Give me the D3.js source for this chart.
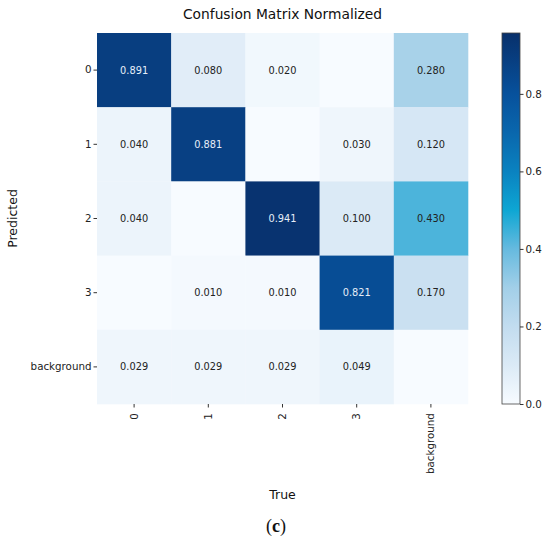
<!DOCTYPE html>
<html><head><meta charset="utf-8">
<script src="https://cdn.jsdelivr.net/npm/d3@7"></script>
<style>body{margin:0;background:#fff}svg{display:block}text{font-family:"DejaVu Sans",sans-serif}</style>
</head><body><svg id="c" width="550" height="545"></svg>
<script>
const predictedLabels = ["0","1","2","3","background"];
const trueLabels = ["0","1","2","3","background"];
const values = [
  [0.891,0.080,0.020,0,0.280],
  [0.040,0.881,0,0.030,0.120],
  [0.040,0,0.941,0.100,0.430],
  [0,0.010,0.010,0.821,0.170],
  [0.029,0.029,0.029,0.049,0]
];
const colorTicks = [0,0.2,0.4,0.6,0.8];
const vmax = 0.957;

const svg = d3.select("#c");
const L=97, T=33, S=371;
const x = d3.scaleBand().domain(trueLabels).range([L,L+S]);
const y = d3.scaleBand().domain(predictedLabels).range([T,T+S]);
const cStops = [0,0.1,0.2,0.3,0.4,0.5,0.6,0.7,0.8,0.957];
const cCols = ["#f7fbff","#dbeaf6","#c2dcef","#a2cfe8","#66badf","#0ea6d3","#0a82c0","#0a67ad","#07519c","#08306b"];
const color = d3.scaleLinear().domain(cStops).range(cCols).clamp(true);

const cells=[];
values.forEach((r,i)=>r.forEach((v,j)=>cells.push({p:predictedLabels[i],t:trueLabels[j],v})));
svg.append("g").selectAll("rect").data(cells).join("rect")
  .attr("x",d=>x(d.t)).attr("y",d=>y(d.p)).attr("width",x.bandwidth()+0.3).attr("height",y.bandwidth()+0.3)
  .attr("fill",d=>color(d.v));
svg.append("g").selectAll("text").data(cells.filter(d=>d.v>0)).join("text")
  .attr("x",d=>x(d.t)+x.bandwidth()/2).attr("y",d=>y(d.p)+y.bandwidth()/2)
  .attr("text-anchor","middle").attr("dy","0.35em").attr("font-size","9.8px")
  .attr("fill",d=>d.v>0.6?"#e6eef8":"#222").text(d=>d3.format(".3f")(d.v));

// axes
const ax = svg.append("g").attr("transform",`translate(0,${T+S})`).call(d3.axisBottom(x).tickSize(3.5).tickPadding(2));
ax.select(".domain").remove();
ax.selectAll("line").attr("stroke","#333");
ax.selectAll("text").attr("font-size","10.3px").attr("fill","#222")
  .attr("text-anchor","end").attr("dx","-0.4em").attr("dy","0.33em").attr("x",0).attr("y",0)
  .attr("transform","translate(0,5) rotate(-90)");
const ay = svg.append("g").attr("transform",`translate(${L},0)`).call(d3.axisLeft(y).tickSize(3.5).tickPadding(2));
ay.select(".domain").remove();
ay.selectAll("line").attr("stroke","#333");
ay.selectAll("text").attr("font-size","10.3px").attr("fill","#222");

// colorbar
const cbX=502, cbW=18, cbT=33, cbB=404;
const cy = d3.scaleLinear().domain([0,vmax]).range([cbB,cbT]);
const defs = svg.append("defs");
const grad = defs.append("linearGradient").attr("id","g").attr("x1",0).attr("y1",1).attr("x2",0).attr("y2",0);
cStops.forEach((s,i)=>grad.append("stop").attr("offset",s/vmax).attr("stop-color",cCols[i]));
svg.append("rect").attr("x",cbX).attr("y",cbT).attr("width",cbW).attr("height",cbB-cbT).attr("fill","url(#g)")
  .attr("stroke","#444").attr("stroke-width",0.8);
const ac = svg.append("g").attr("transform",`translate(${cbX+cbW},0)`).call(d3.axisRight(cy).tickValues(colorTicks).tickFormat(d3.format(".1f")).tickSize(3.5).tickPadding(2));
ac.select(".domain").remove();
ac.selectAll("line").attr("stroke","#333");
ac.selectAll("text").attr("font-size","10.3px").attr("fill","#222");

svg.append("text").attr("x",L+S/2).attr("y",19).attr("text-anchor","middle").attr("font-size","13.8px").attr("fill","#111").text("Confusion Matrix Normalized");
svg.append("text").attr("x",L+S/2).attr("y",499).attr("text-anchor","middle").attr("font-size","12.5px").attr("fill","#111").text("True");
svg.append("text").attr("transform",`translate(17,${T+S/2}) rotate(-90)`).attr("text-anchor","middle").attr("font-size","12.5px").attr("fill","#111").text("Predicted");
svg.append("text").attr("x",276).attr("y",532).attr("text-anchor","middle").attr("font-size","18px")
  .style("font-family","'Liberation Serif',serif").attr("fill","#111")
  .html('(<tspan font-weight="bold">c</tspan>)');
</script></body></html>
